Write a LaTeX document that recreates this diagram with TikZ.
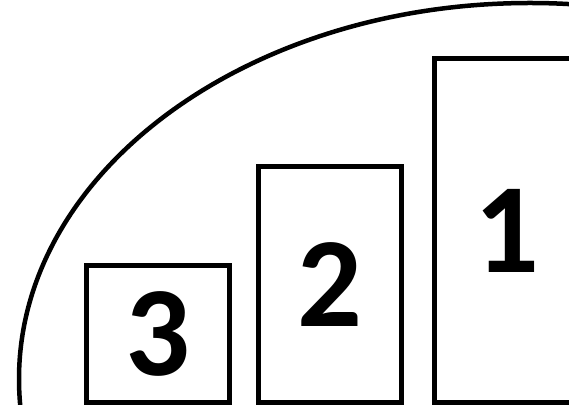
\documentclass[tikz,border=0pt]{standalone}
\usepackage{fontspec}
\setmainfont{Carlito}

\begin{document}
\begin{tikzpicture}[
    x=1pt, y=1pt,
    podium/.style={draw, rectangle, line width=5pt, anchor=south, inner sep=0pt,
        font=\fontsize{128}{128}\selectfont\bfseries},
    rim/.style={line width=4.5pt},
]
\useasboundingbox (0,0) rectangle (569,404);
\clip (0,0) rectangle (569,404);

\draw[rim] (530,25) ellipse [x radius=511, y radius=376];

\node[podium, minimum width=143, minimum height=137] (third) at (158,-1) {3};
\node[podium, minimum width=143, minimum height=235.5] (second) at (329.5,-1) {2};
\node[podium, minimum width=146, minimum height=343.5] (first) at (507,-1) {1};
\end{tikzpicture}
\end{document}
